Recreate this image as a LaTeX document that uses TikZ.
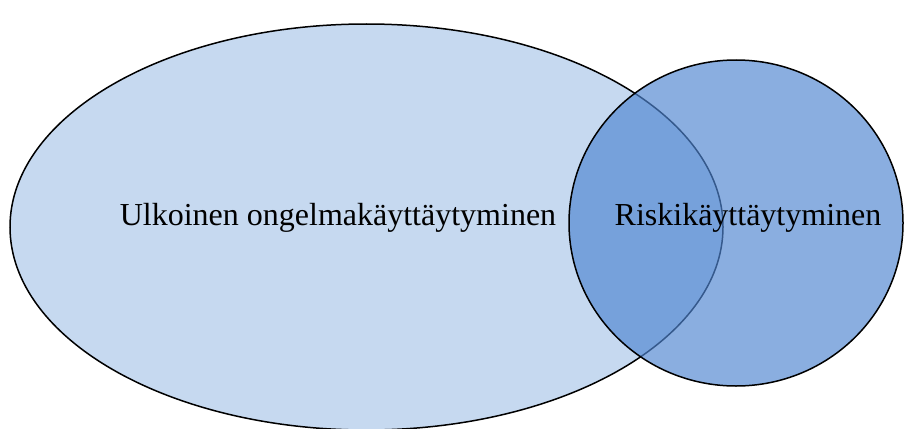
\documentclass[tikz,border=0pt]{standalone}
\usepackage{fontspec}
\setmainfont{Liberation Serif}
\definecolor{bigfill}{RGB}{198,217,240}
\definecolor{smallfill}{RGB}{80,134,209}
\tikzset{
  venn/.style={draw=black, line width=1.5pt},
  lbl/.style={font=\fontsize{32}{38}\selectfont, inner sep=0pt}
}
\begin{document}
\begin{tikzpicture}[x=1pt,y=-1pt]
\useasboundingbox (0,0) rectangle (904,428);
\begin{scope}
\clip (0,0) rectangle (904,428);
\path[venn, fill=bigfill] (366.5,227) ellipse [x radius=356.5, y radius=203];
\path[venn, fill=smallfill, fill opacity=0.67] (736,223) ellipse [x radius=167, y radius=163];
\end{scope}
\node[lbl] (outer) at (338,218) {Ulkoinen ongelmakäyttäytyminen};
\node[lbl] (risk) at (748,218) {Riskikäyttäytyminen};
\end{tikzpicture}
\end{document}
